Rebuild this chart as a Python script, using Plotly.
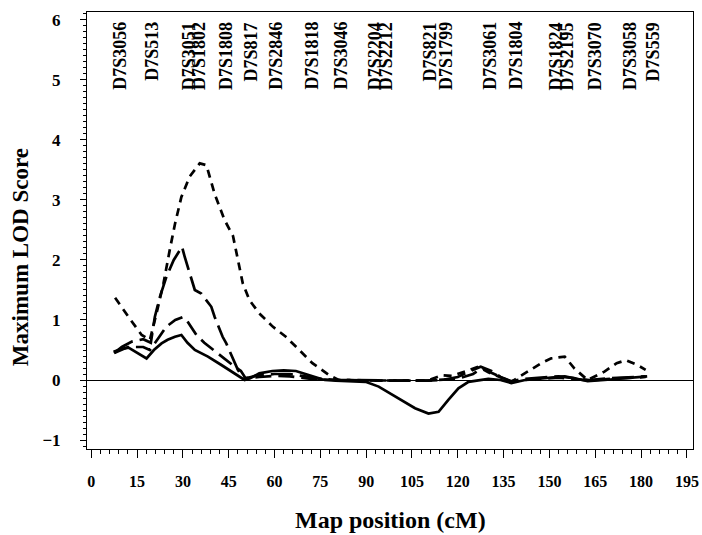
import plotly.graph_objects as go

# ---- data ----
pos_s1 = [7.8, 10, 12.2, 16.5, 19.2, 21.4, 23.6, 25.7, 27.4, 29.5, 32.2, 35.5, 37.7, 40.4, 43.6, 46.4, 48.3, 49.6,
          51.8, 55, 59.4, 63.7, 68.1, 72.4, 77.9, 81, 90, 100, 110, 114.8, 118, 122.4, 126.7, 130, 134, 137.5,
          141.9, 147.3, 150.6, 155, 158.2, 162.5, 168, 172, 175, 178.8, 181.5]
lod_s1 = [1.37, 1.22, 1.05, 0.75, 0.67, 1.12, 1.6, 2.17, 2.6, 3.05, 3.39, 3.61, 3.58, 3.1, 2.67, 2.4, 1.95, 1.61,
          1.33, 1.11, 0.89, 0.72, 0.5, 0.28, 0.08, 0.0, -0.01, -0.01, -0.01, 0.08, 0.07, 0.14, 0.22, 0.13, 0.05, -0.03,
          0.11, 0.28, 0.36, 0.39, 0.19, 0.0, 0.14, 0.28, 0.33, 0.25, 0.17]

pos_s2 = [7.5, 10, 13.3, 17, 19.5, 20.8, 22.5, 24.6, 27, 29.7, 30.6, 33.9, 36, 39.3, 40.4, 43, 44.2, 46.9, 48,
          49.8, 55, 60, 65, 70, 75, 80, 90, 100, 110, 115, 120, 124, 127.5, 131, 134, 137.5, 142, 148, 153,
          158, 163, 170, 176, 181.5]
lod_s2 = [0.45, 0.55, 0.64, 0.68, 0.62, 1.05, 1.39, 1.72, 2.0, 2.22, 2.05, 1.5, 1.44, 1.22, 1.05, 0.72, 0.61, 0.28,
          0.17, 0.02, 0.08, 0.1, 0.1, 0.06, 0.02, 0.0, -0.01, -0.01, -0.01, 0.0, 0.05, 0.15, 0.22, 0.15, 0.05, -0.02,
          0.02, 0.04, 0.06, 0.03, 0.0, 0.03, 0.05, 0.06]

pos_s3 = [7.5, 12, 17, 19.2, 22, 24.6, 27.5, 30, 31.2, 34.4, 37, 40, 44, 47, 49, 50.5, 55, 60, 65, 70, 75, 80,
          90, 100, 110, 120, 125, 128, 131, 135, 137.5, 142, 148, 153, 158, 163, 170, 176, 181.5]
lod_s3 = [0.45, 0.55, 0.55, 0.5, 0.7, 0.89, 1.0, 1.05, 1.0, 0.75, 0.62, 0.5, 0.33, 0.22, 0.15, 0.03, 0.05, 0.07,
          0.06, 0.03, 0.0, 0.0, -0.01, -0.01, -0.01, 0.02, 0.1, 0.2, 0.12, 0.02, -0.03, 0.0, 0.02, 0.04, 0.02,
          -0.01, 0.02, 0.04, 0.05]

pos_s4 = [7.3, 10, 12.2, 15, 18.1, 20.5, 23, 25, 27.4, 29.5, 31.5, 33.9, 36, 38.2, 42.6, 46.9, 50.2, 52, 55,
          59.3, 63, 67, 71.3, 75.6, 80, 86, 89.8, 94.1, 100.6, 106, 110.4, 113.7, 116.9, 120.2, 123.5, 127, 130,
          134, 137.5, 142, 148, 155, 159, 162.5, 168, 175, 182]
lod_s4 = [0.47, 0.52, 0.54, 0.45, 0.36, 0.5, 0.61, 0.67, 0.72, 0.75, 0.62, 0.5, 0.45, 0.39, 0.25, 0.11, 0.0, 0.03,
          0.11, 0.15, 0.16, 0.15, 0.08, 0.01, -0.01, -0.02, -0.03, -0.11, -0.3, -0.47, -0.56, -0.53, -0.33, -0.14,
          -0.03, 0.0, 0.02, 0.0, -0.05, 0.0, 0.03, 0.06, 0.02, -0.02, 0.0, 0.03, 0.06]

marker_names = ["D7S3056", "D7S513", "D7S3051", "D7S1802", "D7S1808", "D7S817", "D7S2846", "D7S1818",
                "D7S3046", "D7S2204", "D7S2212", "D7S821", "D7S1799", "D7S3061", "D7S1804", "D7S1824",
                "D7S2195", "D7S3070", "D7S3058", "D7S559"]
marker_pos = [9.3, 20.0, 32.1, 35.3, 44.1, 52.6, 60.4, 72.1, 81.6, 93.0, 96.6, 111.2, 116.1, 130.5, 138.9,
              152.3, 155.9, 165.0, 176.4, 184.2]

x_ticks = list(range(0, 196, 15))
y_ticks = [-1, 0, 1, 2, 3, 4, 5, 6]

FONT = "Liberation Serif"

fig = go.Figure()
series = [(pos_s1, lod_s1, "8px,6px"), (pos_s2, lod_s2, "22px,7px"),
          (pos_s3, lod_s3, "16px,7px"), (pos_s4, lod_s4, "solid")]
for xs, ys, dash in series:
    fig.add_trace(go.Scatter(x=xs, y=ys, mode="lines", showlegend=False, hoverinfo="skip",
                             line=dict(color="black", width=2.7, dash=dash)))

for name, p in zip(marker_names, marker_pos):
    fig.add_annotation(x=p, y=6.0, xref="x", yref="y", text=name, showarrow=False,
                       textangle=-90, xanchor="center", yanchor="top",
                       font=dict(family=FONT, size=18, color="black", weight="bold"))

fig.add_annotation(x=-0.1106, y=0.439, xref="paper", yref="paper", text="Maximum LOD Score",
                   showarrow=False, textangle=-90, xanchor="center", yanchor="middle",
                   font=dict(family=FONT, size=23, color="black", weight="bold"))
fig.add_annotation(x=0.5, y=-0.1625, xref="paper", yref="paper", text="Map position (cM)",
                   showarrow=False, xanchor="center", yanchor="middle",
                   font=dict(family=FONT, size=24, color="black", weight="bold"))

fig.update_layout(
    width=702, height=535,
    margin=dict(l=87, r=9, t=12, b=86, autoexpand=False),
    paper_bgcolor="white", plot_bgcolor="white",
    xaxis=dict(range=[-1.4, 197.0], tickmode="array", tickvals=x_ticks, automargin=False,
               ticktext=[str(v) for v in x_ticks], ticks="outside", ticklen=8, tickwidth=1,
               tickcolor="black", showline=True, linecolor="black", linewidth=1, mirror=True,
               showgrid=False, zeroline=False, ticklabelstandoff=10,
               minor=dict(dtick=3, tick0=0, ticks="outside", ticklen=4, tickcolor="black", showgrid=False),
               tickfont=dict(family=FONT, size=16, color="black", weight="bold")),
    yaxis=dict(range=[-1.15, 6.133], tickmode="array", tickvals=y_ticks, automargin=False,
               ticktext=["\u22121" if v < 0 else str(v) for v in y_ticks], ticks="outside", ticklen=6,
               tickwidth=1, tickcolor="black", showline=True, linecolor="black", linewidth=1, mirror=True,
               showgrid=False, zeroline=True, zerolinecolor="black", zerolinewidth=1, ticklabelstandoff=16,
               minor=dict(dtick=0.1, tick0=0, ticks="outside", ticklen=3, tickcolor="black", showgrid=False),
               tickfont=dict(family=FONT, size=17, color="black", weight="bold")),
)

# remove the browser's default 8px page margin so the 702x535 figure fills the window
fig.write_html("out.html", config={"displayModeBar": False},
               post_script="document.body.style.margin='0';document.body.style.overflow='hidden';")
